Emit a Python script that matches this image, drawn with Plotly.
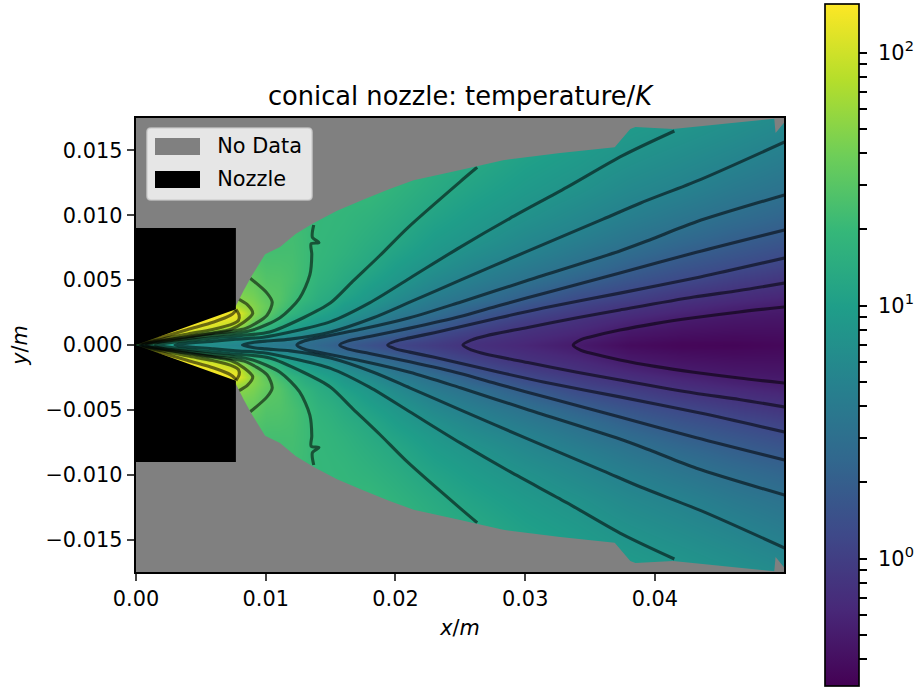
import numpy as np
import plotly.graph_objects as go

FONT = "DejaVu Sans"
# grid: positions in mm, values are log10(temperature / K), upper half only
x_mm = [0, 2, 4, 6, 7.7, 9, 10, 11, 12, 13, 14, 15, 16, 18, 20, 23, 26, 30, 34, 38, 42, 46, 50]
y_mm = [0, .2, .4, .6, .8, 1, 1.25, 1.5, 2, 2.5, 3, 3.5, 4, 5, 6, 7, 8, 9, 10, 12, 14, 16, 18]
# one list per x station
col_00 = [1.2, 2.17, 2.17, 2.17, 2.17, 2.17, 2.17, 2.17, 2.17, 2.17, 2.17, 2.17, 2.17, 2.17, 2.17, 2.17, 2.17, 2.17, 2.17, 2.17, 2.17, 2.17, 2.17]
col_02 = [1.0, 1.23, 1.85, 2.12, 2.17, 2.17, 2.17, 2.17, 2.17, 2.17, 2.17, 2.17, 2.17, 2.17, 2.17, 2.17, 2.17, 2.17, 2.17, 2.17, 2.17, 2.17, 2.17]
col_04 = [.85, .98, 1.17, 1.5, 1.83, 2.02, 2.13, 2.17, 2.17, 2.17, 2.17, 2.17, 2.17, 2.17, 2.17, 2.17, 2.17, 2.17, 2.17, 2.17, 2.17, 2.17, 2.17]
col_06 = [.79, .86, .98, 1.15, 1.37, 1.63, 1.9, 2.04, 2.15, 2.16, 2.16, 2.16, 2.16, 2.16, 2.16, 2.16, 2.16, 2.16, 2.16, 2.16, 2.16, 2.16, 2.16]
col_07 = [.73, .8, .87, 1.0, 1.2, 1.38, 1.63, 1.86, 2.06, 2.14, 1.85, 1.72, 1.66, 1.56, 1.48, 1.42, 1.38, 1.35, 1.35, 1.38, 1.42, 1.48, 1.55]
col_09 = [.66, .75, .85, 1.03, 1.17, 1.255, 1.365, 1.46, 1.62, 1.71, 1.68, 1.64, 1.6, 1.53, 1.46, 1.41, 1.37, 1.35, 1.35, 1.38, 1.42, 1.48, 1.55]
col_10 = [.62, .685, .78, .89, 1.03, 1.13, 1.215, 1.3, 1.435, 1.52, 1.555, 1.525, 1.49, 1.45, 1.415, 1.38, 1.36, 1.35, 1.35, 1.38, 1.42, 1.48, 1.55]
col_11 = [.575, .63, .71, .8, .9, 1.0, 1.11, 1.17, 1.29, 1.37, 1.43, 1.46, 1.46, 1.44, 1.41, 1.38, 1.365, 1.355, 1.355, 1.38, 1.42, 1.48, 1.55]
col_12 = [.53, .6, .68, .745, .82, .89, .96, 1.03, 1.14, 1.25, 1.315, 1.345, 1.37, 1.395, 1.39, 1.38, 1.37, 1.36, 1.36, 1.38, 1.42, 1.48, 1.55]
col_13 = [.465, .49, .56, .69, .74, .78, .9, .97, 1.06, 1.15, 1.2, 1.265, 1.29, 1.33, 1.335, 1.335, 1.335, 1.33, 1.33, 1.34, 1.38, 1.45, 1.52]
col_14 = [.4, .435, .465, .5, .7, .76, .82, .9, .98, 1.065, 1.135, 1.17, 1.2, 1.24, 1.265, 1.28, 1.285, 1.29, 1.29, 1.3, 1.35, 1.42, 1.5]
col_15 = [.345, .385, .425, .465, .5, .7, .76, .825, .93, .995, 1.065, 1.12, 1.15, 1.2, 1.23, 1.255, 1.265, 1.275, 1.28, 1.3, 1.35, 1.41, 1.48]
col_16 = [.288, .32, .365, .41, .465, .525, .65, .73, .83, .915, .97, 1.03, 1.085, 1.14, 1.18, 1.22, 1.24, 1.26, 1.27, 1.3, 1.35, 1.4, 1.45]
col_18 = [.18, .225, .27, .315, .365, .42, .485, .56, .7, .78, .86, .92, .955, 1.03, 1.1, 1.135, 1.17, 1.2, 1.23, 1.3, 1.36, 1.4, 1.44]
col_20 = [.082, .115, .17, .23, .285, .335, .39, .445, .545, .635, .72, .79, .84, .93, .99, 1.05, 1.105, 1.135, 1.17, 1.235, 1.3, 1.34, 1.38]
col_23 = [-.023, .005, .035, .07, .1, .125, .21, .275, .38, .48, .55, .61, .675, .77, .855, .925, .97, 1.015, 1.06, 1.135, 1.19, 1.245, 1.3]
col_26 = [-.12, -.105, -.085, -.055, -.025, .01, .045, .085, .185, .29, .39, .49, .55, .655, .74, .815, .885, .93, .97, 1.05, 1.12, 1.16, 1.2]
col_30 = [-.213, -.195, -.18, -.16, -.145, -.125, -.105, -.07, .01, .09, .19, .29, .37, .515, .61, .7, .76, .815, .87, .95, 1.015, 1.085, 1.14]
col_34 = [-.305, -.29, -.27, -.25, -.23, -.21, -.185, -.16, -.11, -.04, .035, .11, .195, .355, .485, .57, .65, .72, .77, .87, .94, 1.0, 1.06]
col_38 = [-.42, -.4, -.38, -.365, -.345, -.33, -.305, -.275, -.21, -.145, -.08, 0, .075, .21, .33, .435, .53, .6, .67, .77, .855, .93, 1.0]
col_42 = [-.46, -.45, -.43, -.41, -.395, -.38, -.36, -.34, -.3, -.235, -.17, -.105, -.04, .1, .21, .315, .41, .5, .57, .7, .785, .87, .935]
col_46 = [-.47, -.46, -.44, -.43, -.42, -.4, -.385, -.37, -.335, -.3, -.24, -.18, -.12, 0, .12, .22, .31, .39, .475, .6, .71, .8, .88]
col_50 = [-.45, -.44, -.43, -.42, -.41, -.4, -.39, -.375, -.35, -.32, -.29, -.24, -.18, -.08, .03, .13, .22, .31, .38, .52, .62, .72, .81]
columns = [col_00, col_02, col_04, col_06, col_07, col_09, col_10, col_11, col_12, col_13, col_14, col_15, col_16, col_18,
           col_20, col_23, col_26, col_30, col_34, col_38, col_42, col_46, col_50]

# contour lines (upper half, mm): x list, y list, one pair per level of log10(T)
c_m03_x = [33.7, 34.3, 35, 37.3, 40, 43, 46.5, 50]
c_m03_y = [0, .42, .62, 1.15, 1.65, 2.1, 2.55, 2.93]
c_m01_x = [25.2, 25.9, 27, 30.2, 34, 37.3, 43, 46.5, 50]
c_m01_y = [0, .4, .72, 1.35, 2.1, 2.7, 3.7, 4.2, 4.78]
c_p01_x = [19.4, 20, 21.1, 23, 25, 28, 31.4, 37.3, 43.5, 50]
c_p01_y = [0, .3, .55, .95, 1.4, 2.1, 2.85, 4.0, 5.25, 6.71]
c_p03_x = [15.7, 16.3, 18, 21.1, 25, 28, 31.7, 37.3, 43.2, 50]
c_p03_y = [0, .3, .65, 1.3, 2.2, 3.05, 4.05, 5.55, 7.15, 8.87]
c_p05_x = [12.4, 13, 14, 16, 17.5, 21.1, 25, 30.1, 37.3, 39.6, 43.2, 50]
c_p05_y = [0, .33, .55, .95, 1.25, 2.1, 3.3, 4.95, 7.25, 8.1, 9.5, 11.57]
c_p07_x = [8.2, 9, 10, 11.9, 15, 18.3, 21.1, 25, 30.1, 36, 38.9, 43.5, 50]
c_p07_y = [0, .2, .3, .45, 1.0, 2.1, 3.3, 5.0, 7.2, 9.7, 10.95, 12.75, 15.65]
c_p09_x = [3, 3.6, 6, 7.7, 9.8, 11.9, 15, 18, 21.1, 25, 28.8, 33.2, 37.5, 41.5]
c_p09_y = [0, .1, .3, .45, .6, 1.0, 1.8, 3.25, 5.15, 7.55, 9.75, 12.15, 14.6, 16.5]
c_p11_x = [1.5, 2, 4, 6, 7.7, 10.3, 12.9, 15, 16.7, 18.8, 20.9, 25, 26.3]
c_p11_y = [0, .1, .35, .55, .7, 1.0, 2.1, 3.25, 4.9, 6.9, 9.0, 12.6, 13.7]
c_p13_x = [.8, 2, 4, 6, 7.7, 9, 11.1, 12.6, 13.4, 13.55, 13.5, 14.1, 13.6, 13.7]
c_p13_y = [0, .25, .5, .75, .9, 1.15, 2.1, 3.6, 5.4, 7.0, 7.8, 7.9, 8.3, 9.25]
c_p15_x = [.5, 2, 4, 6, 7.3, 8.5, 10.1, 10.5, 10.1, 8.8]
c_p15_y = [0, .3, .6, .9, 1.05, 1.3, 2.3, 3.3, 4.0, 5.15]
c_p17_x = [.4, 2, 4, 6, 7.3, 8.3, 9, 8.6, 7.8]
c_p17_y = [0, .35, .65, .95, 1.2, 1.75, 2.45, 3.1, 3.6]
c_p19_x = [.3, 2, 4, 5.9, 7.5, 7.9, 7.95, 7.7]
c_p19_y = [0, .45, .85, 1.2, 1.65, 1.9, 2.3, 2.75]
c_p21_x = [.2, 2, 4, 6, 7.3, 7.6, 7.7]
c_p21_y = [0, .6, 1.2, 1.78, 2.3, 2.55, 2.7]
contour_lines = [(c_m03_x, c_m03_y), (c_m01_x, c_m01_y), (c_p01_x, c_p01_y), (c_p03_x, c_p03_y), (c_p05_x, c_p05_y),
                 (c_p07_x, c_p07_y), (c_p09_x, c_p09_y), (c_p11_x, c_p11_y), (c_p13_x, c_p13_y), (c_p15_x, c_p15_y),
                 (c_p17_x, c_p17_y), (c_p19_x, c_p19_y), (c_p21_x, c_p21_y)]

# edge of the measured region (upper half), mm
edge_x = [7.7, 8.3, 8.9, 9.95, 11.1, 12.3, 13.7, 15.5, 17.5, 19.5, 21.4, 25, 28.3, 32.7, 36.9, 38.1, 38.5, 41.4, 49.2, 49.3, 50]
edge_y = [3.0, 4.2, 5.3, 7.0, 7.55, 8.55, 9.4, 10.35, 11.2, 12.0, 12.7, 13.5, 14.25, 14.8, 15.25, 16.65, 16.8, 16.65, 17.45, 16.35, 17.2]
# nozzle outline (upper half), mm
nozzle_x = [0, 7.7, 7.7, 0]
nozzle_y = [0, 2.75, 9.02, 9.02]

colorbar_ticks = [.4, .5, .6, .7, .8, .9, 1, 2, 3, 4, 5, 6, 7, 8, 9, 10, 20, 30, 40, 50, 60, 70, 80, 90, 100]
colorbar_text = {1: "\u00a010<sup>0</sup>", 10: "\u00a010<sup>1</sup>", 100: "\u00a010<sup>2</sup>"}
ZMIN, ZMAX = -0.502, 2.194

half = np.array(columns, dtype=float).T
z = np.vstack([half[:0:-1], half])
y = np.concatenate([-np.array(y_mm[:0:-1]), y_mm]) / 1000
x = np.array(x_mm) / 1000

ex, ey = np.array(edge_x) / 1000, np.array(edge_y) / 1000
top = 0.0175
right = 0.05
gx = list(ex) + [right, 0, 0, None] + list(ex) + [right, 0, 0]
gy = list(ey) + [top, top, ey[0], None] + list(-ey) + [-top, -top, -ey[0]]
nx = np.array(nozzle_x) / 1000
ny = np.array(nozzle_y) / 1000
nzx = list(nx) + list(nx[::-1])
nzy = list(ny) + list(-ny[::-1])

DOM_L, DOM_R, DOM_T, DOM_B = 136, 784, 118, 572


def fx(p):
    return (p - DOM_L) / (DOM_R - DOM_L)


def fy(p):
    return 1 - (p - DOM_T) / (DOM_B - DOM_T)


fig = go.Figure()
fig.add_trace(go.Heatmap(
    x=x, y=y, z=z, zsmooth="best", colorscale="Viridis", zmin=ZMIN, zmax=ZMAX, name="temperature",
    colorbar=dict(xref="paper", yref="paper", x=fx(824.5), y=fy(3.5), xanchor="left", yanchor="top",
                  thickness=33.5, thicknessmode="pixels", len=681.5, lenmode="pixels", xpad=0, ypad=0,
                  tickmode="array", tickvals=list(np.log10(colorbar_ticks)),
                  ticktext=[colorbar_text.get(t, " ") for t in colorbar_ticks], ticks="outside",
                  ticklen=8, tickwidth=1.67, tickcolor="black", outlinewidth=1.67, outlinecolor="black",
                  tickfont=dict(family=FONT, size=20.83, color="black"))))
for cx, cy in contour_lines:
    cx, cy = np.array(cx) / 1000, np.array(cy) / 1000
    fig.add_trace(go.Scatter(x=np.concatenate([cx[:0:-1], cx]), y=np.concatenate([-cy[:0:-1], cy]), mode="lines",
                             line=dict(color="rgba(0,0,0,0.55)", width=3.1, shape="spline", smoothing=0.8),
                             showlegend=False, hoverinfo="skip"))
fig.add_trace(go.Scatter(x=gx, y=gy, mode="none", fill="toself", fillcolor="#808080", name="\u00a0\u00a0No Data",
                         legendgroup="a", hoverinfo="skip"))
fig.add_trace(go.Scatter(x=nzx, y=nzy, mode="none", fill="toself", fillcolor="#000000", name="\u00a0\u00a0Nozzle",
                         legendgroup="b", hoverinfo="skip"))


def rounded(l, t, r, b, rad=4):
    L, R = fx(l), fx(r)
    T, B = fy(t), fy(b)
    dx = rad / (DOM_R - DOM_L)
    dy = rad / (DOM_B - DOM_T)
    return (f"M {L + dx},{T} L {R - dx},{T} Q {R},{T} {R},{T - dy} L {R},{B + dy} Q {R},{B} {R - dx},{B} "
            f"L {L + dx},{B} Q {L},{B} {L},{B + dy} L {L},{T - dy} Q {L},{T} {L + dx},{T} Z")


shapes = [
    dict(type="path", xref="paper", yref="paper", path=rounded(147, 128, 312, 200),
         fillcolor="rgba(255,255,255,0.8)", line=dict(color="rgba(204,204,204,0.8)", width=1.67), layer="above"),
    dict(type="rect", xref="paper", yref="paper", x0=fx(155), x1=fx(200), y0=fy(138), y1=fy(155),
         fillcolor="#808080", line=dict(width=0), layer="above"),
    dict(type="rect", xref="paper", yref="paper", x0=fx(155), x1=fx(200), y0=fy(171), y1=fy(188),
         fillcolor="#000000", line=dict(width=0), layer="above"),
]

axis_common = dict(ticks="outside", ticklen=7.5, tickwidth=1.67, showgrid=False, zeroline=False, showline=True,
                   mirror=True, linecolor="black", linewidth=1.67, tickfont=dict(family=FONT, size=20.83),
                   layer="above traces")

fig.update_layout(
    width=915, height=688, autosize=False,
    margin=dict(l=DOM_L, r=915 - DOM_R, t=DOM_T, b=688 - DOM_B, pad=0, autoexpand=False),
    paper_bgcolor="white", plot_bgcolor="#808080",
    font=dict(family=FONT, size=20.83, color="black"),
    title=dict(text="conical nozzle: temperature/<i>K</i>", x=460 / 915, xanchor="center",
               y=1 - 96 / 688, yanchor="middle", font=dict(family=FONT, size=25.7, color="black")),
    shapes=shapes,
    legend=dict(x=fx(150), y=fy(125), xanchor="left", yanchor="top", bgcolor="rgba(0,0,0,0)", borderwidth=0,
                font=dict(family=FONT, size=20.83, color="black"), itemwidth=44, tracegroupgap=3,
                traceorder="grouped", itemclick=False, itemdoubleclick=False),
    showlegend=True,
    xaxis=dict(range=[0, 0.04995], dtick=0.01, tick0=0, tickformat=".2f",
               title=dict(text="<i>x</i>/<i>m</i>", standoff=10, font=dict(family=FONT, size=20.83)), **axis_common),
    yaxis=dict(range=[-0.0175, 0.0175], dtick=0.005, tick0=0, tickformat=".3f",
               title=dict(text="<i>y</i>/<i>m</i>", standoff=12, font=dict(family=FONT, size=20.83)), **axis_common),
)

fig.write_html("out.html", config={"displayModeBar": False},
               post_script="document.body.style.margin='0';document.documentElement.style.overflow='hidden';")
